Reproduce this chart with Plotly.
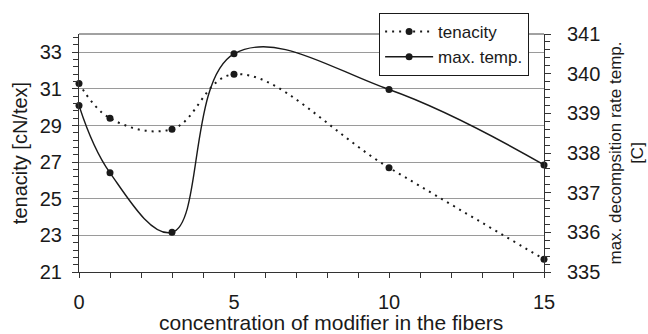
import plotly.graph_objects as go

# Modifier concentration in the fibers (x) and measured properties
concentration = [0, 1, 3, 5, 10, 15]
tenacity = [31.3, 29.4, 28.8, 31.8, 26.7, 21.7]          # cN/tex, left axis
max_temp = [339.2, 337.5, 336.0, 340.5, 339.6, 337.7]    # C, right axis

left_ticks = [21, 23, 25, 27, 29, 31, 33]
right_ticks = [335, 336, 337, 338, 339, 340, 341]
x_ticks = [0, 5, 10, 15]

FONT = "Liberation Sans, Arial, sans-serif"
INK = "#1a1a1a"

fig = go.Figure()

fig.add_trace(go.Scatter(
    x=concentration, y=tenacity, name="tenacity",
    mode="lines+markers",
    line=dict(color=INK, width=2, dash="2px,5px", shape="spline", smoothing=1.1),
    marker=dict(color=INK, size=7),
    cliponaxis=False,
    yaxis="y",
))

fig.add_trace(go.Scatter(
    x=concentration, y=max_temp, name="max. temp.",
    mode="lines+markers",
    line=dict(color=INK, width=1.4, shape="spline", smoothing=1.15),
    marker=dict(color=INK, size=7),
    cliponaxis=False,
    yaxis="y2",
))

fig.update_layout(
    width=648, height=334,
    margin=dict(l=79, r=104, t=34, b=62),
    paper_bgcolor="white", plot_bgcolor="white",
    font=dict(family=FONT, color=INK, size=20),
    showlegend=True,
    legend=dict(
        x=0.968, xanchor="right", y=1.088, yanchor="top",
        bgcolor="white", bordercolor=INK, borderwidth=1,
        font=dict(size=17, family=FONT, color=INK),
        itemwidth=48, tracegroupgap=0,
    ),
    xaxis=dict(
        range=[0, 15], tickvals=x_ticks, automargin=False,
        ticks="outside", ticklen=5, tickcolor="#333", tickwidth=1,
        minor=dict(dtick=1, tick0=0, ticks="outside", ticklen=5, tickcolor="#333", showgrid=False),
        showline=True, linecolor="#333", linewidth=1,
        showgrid=False, zeroline=False,
        tickfont=dict(size=20), ticklabelstandoff=7,
    ),
    yaxis=dict(
        range=[21, 34], tickvals=left_ticks, automargin=False,
        ticks="outside", ticklen=6, tickcolor="#333",
        minor=dict(dtick=0.4, tick0=21, ticks="outside", ticklen=5, tickcolor="#333", showgrid=False),
        showline=True, linecolor="#333", linewidth=1,
        showgrid=True, gridcolor="#9a9a9a", gridwidth=1, zeroline=False,
        tickfont=dict(size=20), ticklabelstandoff=6,
        title=dict(text="tenacity [cN/tex]", font=dict(size=20), standoff=6),
    ),
    yaxis2=dict(
        range=[335, 341], tickvals=right_ticks, automargin=False,
        overlaying="y", side="right",
        ticks="outside", ticklen=6, tickcolor="#333",
        minor=dict(dtick=0.2, tick0=335, ticks="outside", ticklen=5, tickcolor="#333", showgrid=False),
        showline=True, linecolor="#333", linewidth=1,
        showgrid=False, zeroline=False,
        tickfont=dict(size=20), ticklabelstandoff=12,
        title=dict(text="max. decompsition rate temp.<br>[C]", font=dict(size=17), standoff=9),
    ),
    shapes=[dict(type="line", xref="paper", yref="paper", x0=0, x1=1, y0=1, y1=1,
                 line=dict(color="#444", width=1))],
    annotations=[dict(
        text="concentration of modifier in the fibers",
        xref="paper", yref="paper", x=0.542, y=0, xanchor="center", yanchor="middle",
        yshift=-50, showarrow=False, font=dict(size=21, family=FONT, color=INK),
    )],
)

fig.write_html("out.html")
